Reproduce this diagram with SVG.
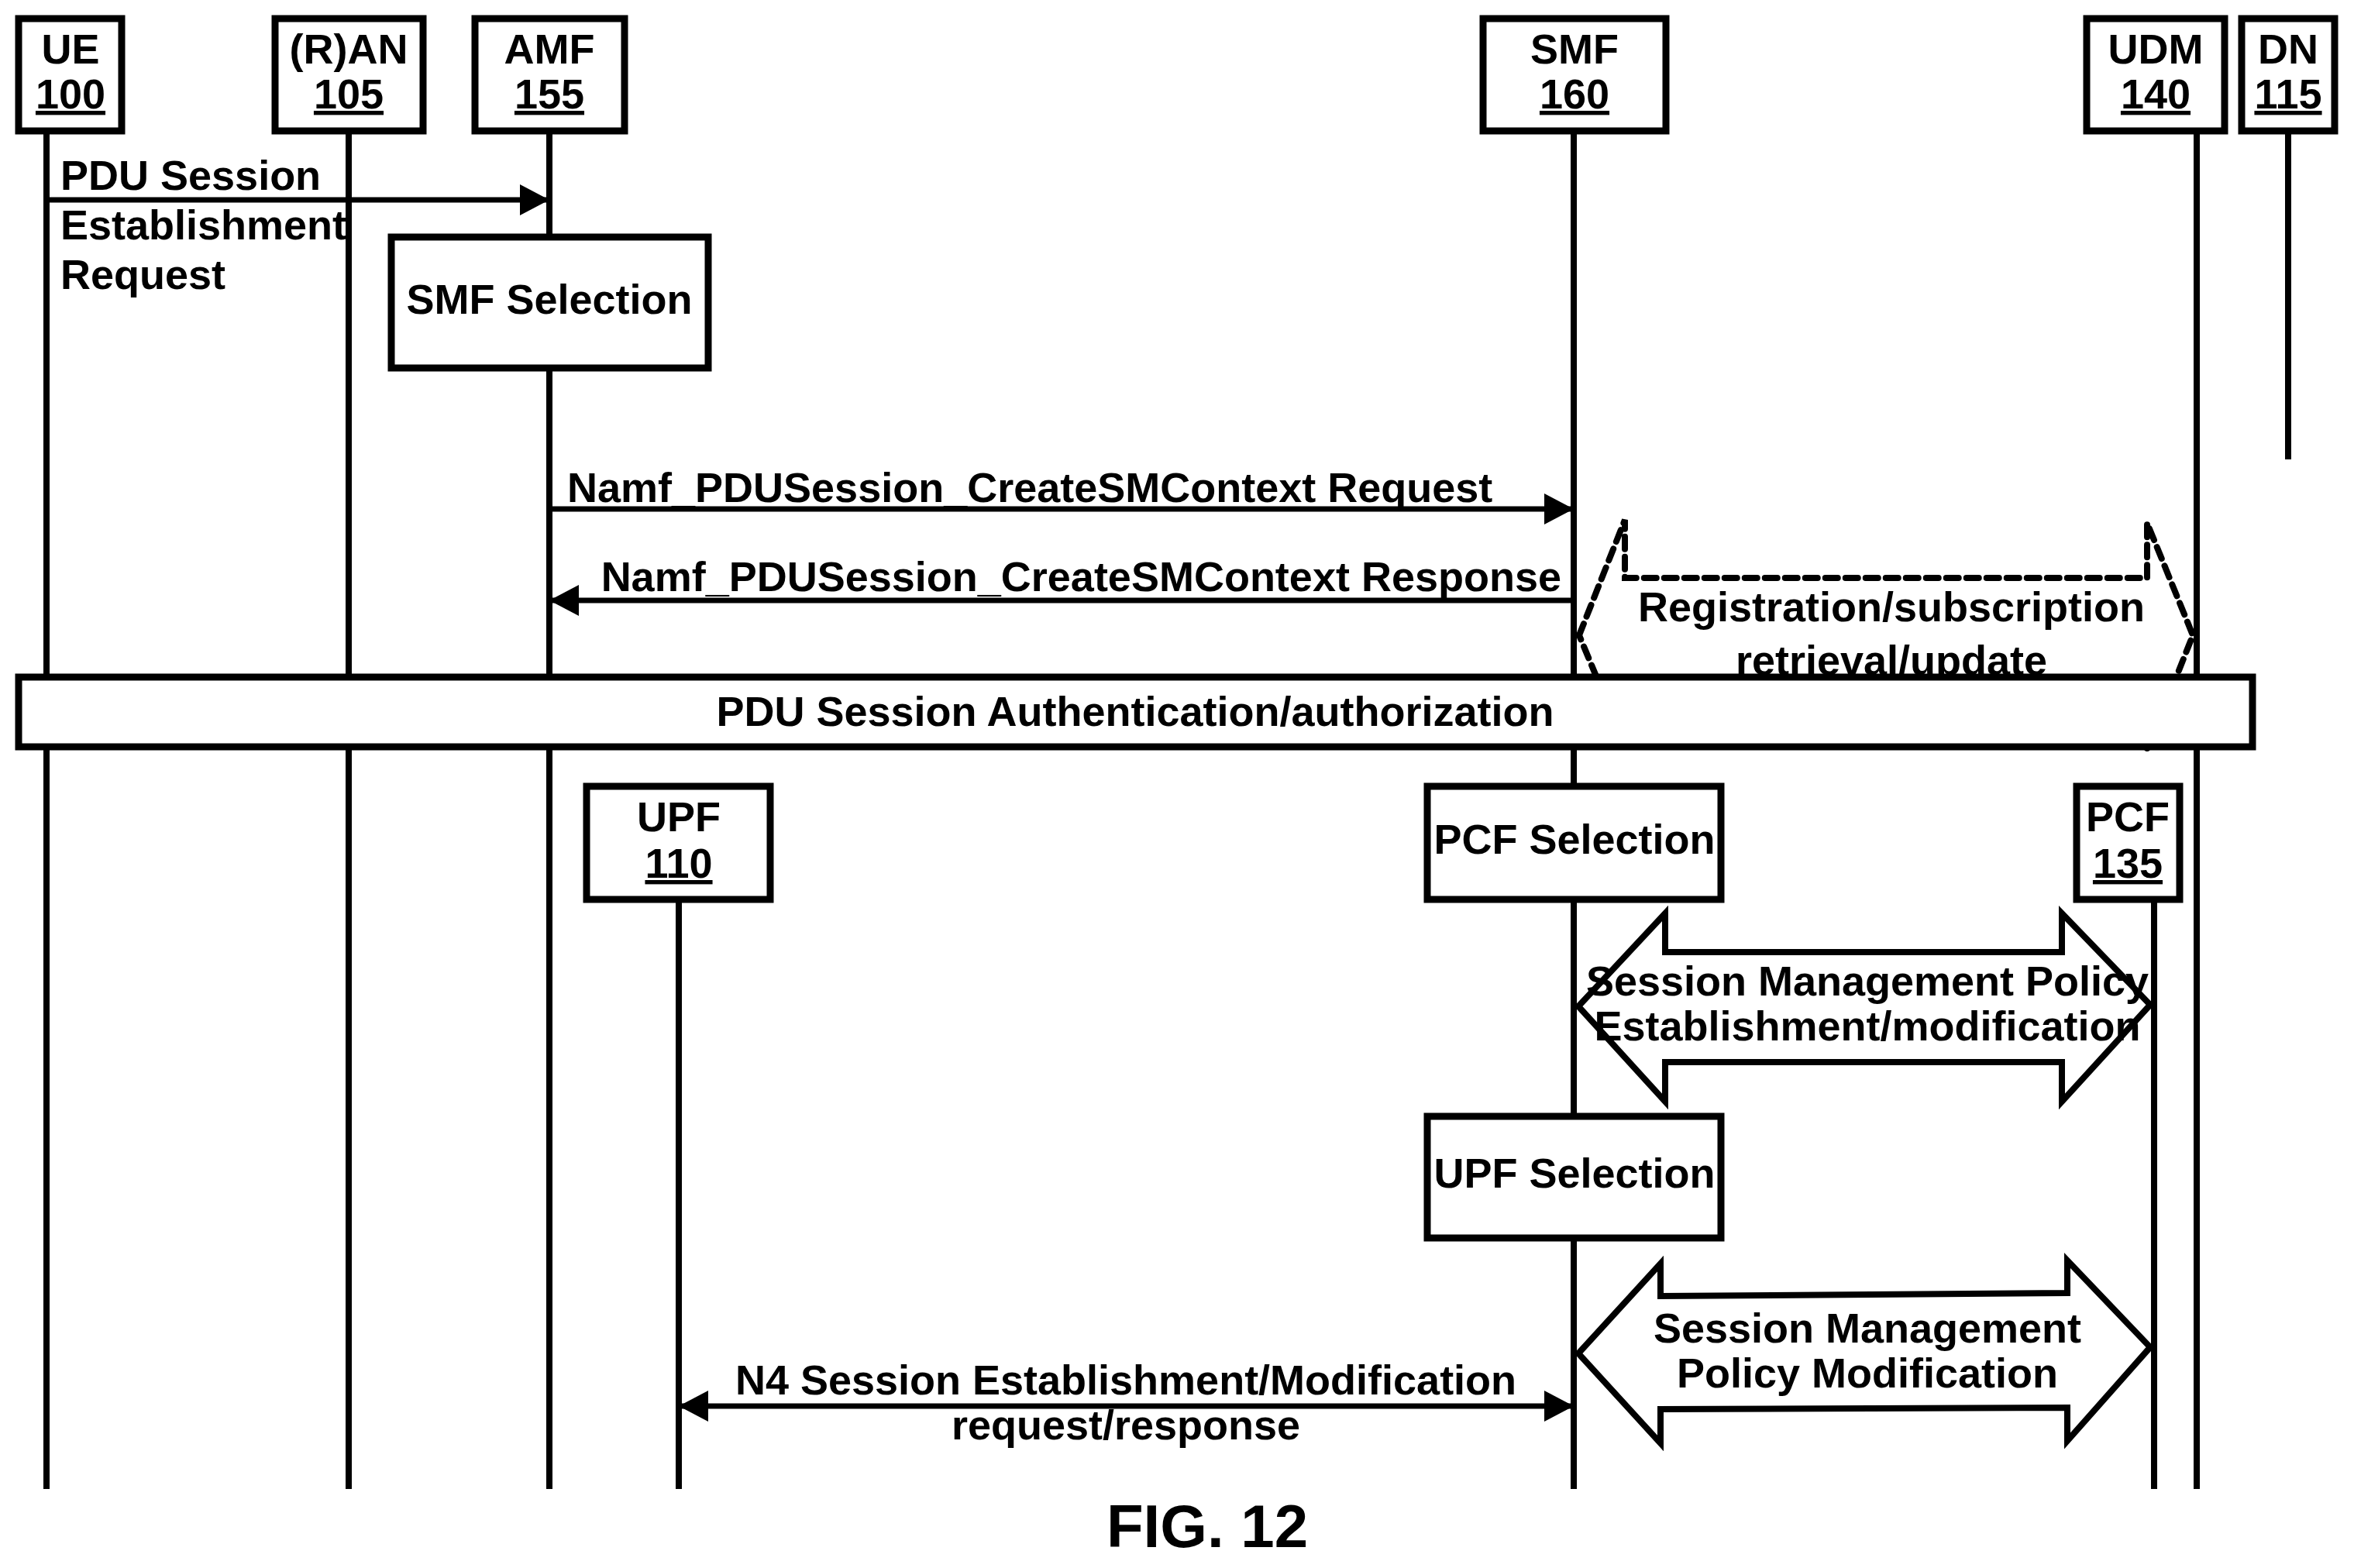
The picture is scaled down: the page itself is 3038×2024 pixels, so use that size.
<svg xmlns="http://www.w3.org/2000/svg" width="3038" height="2024" viewBox="0 0 3038 2024">
<style>
text{font-family:"Liberation Sans Narrow","Liberation Sans",Arial,sans-serif;font-weight:bold;font-size:54px;fill:#000}
.c{text-anchor:middle}
.box{fill:#fff;stroke:#000;stroke-width:9}
.life{stroke:#000;stroke-width:8;fill:none}
.msg{stroke:#000;stroke-width:7;fill:none}
.big{fill:#fff;stroke:#000;stroke-width:8;stroke-linejoin:miter}
.dash{fill:#fff;stroke:#000;stroke-width:8;stroke-dasharray:16 10;stroke-linecap:round}
</style>
<defs>
<marker id="ah" markerUnits="userSpaceOnUse" markerWidth="40" markerHeight="44" refX="38" refY="22" orient="auto-start-reverse">
<path d="M0,2 L38,22 L0,42 Z" fill="#000"/>
</marker>
</defs>
<rect width="3038" height="2024" fill="#fff"/>
<g id="lifelines">
<line class="life" x1="60" y1="169" x2="60" y2="1922"/>
<line class="life" x1="450" y1="169" x2="450" y2="1922"/>
<line class="life" x1="709" y1="169" x2="709" y2="1922"/>
<line class="life" x1="2031" y1="169" x2="2031" y2="1922"/>
<line class="life" x1="2835" y1="169" x2="2835" y2="1922"/>
<line class="life" x1="2953" y1="169" x2="2953" y2="593"/>
<line class="life" x1="876" y1="1161" x2="876" y2="1922"/>
<line class="life" x1="2780" y1="1161" x2="2780" y2="1922"/>
</g>
<g id="UE"><rect class="box" x="24" y="24" width="133" height="145"/><text class="c" x="91" y="82">UE</text><text class="c" x="91" y="140" text-decoration="underline">100</text></g>
<g id="RAN"><rect class="box" x="355" y="24" width="191" height="145"/><text class="c" x="450" y="82">(R)AN</text><text class="c" x="450" y="140" text-decoration="underline">105</text></g>
<g id="AMF"><rect class="box" x="613" y="24" width="193" height="145"/><text class="c" x="709" y="82">AMF</text><text class="c" x="709" y="140" text-decoration="underline">155</text></g>
<g id="SMF"><rect class="box" x="1914" y="24" width="236" height="145"/><text class="c" x="2032" y="82">SMF</text><text class="c" x="2032" y="140" text-decoration="underline">160</text></g>
<g id="UDM"><rect class="box" x="2693" y="24" width="178" height="145"/><text class="c" x="2782" y="82">UDM</text><text class="c" x="2782" y="140" text-decoration="underline">140</text></g>
<g id="DN"><rect class="box" x="2893" y="24" width="120" height="145"/><text class="c" x="2953" y="82">DN</text><text class="c" x="2953" y="140" text-decoration="underline">115</text></g>
<g id="SMFSel"><rect class="box" x="505" y="306" width="409" height="169"/><text class="c" x="709" y="405">SMF Selection</text></g>
<g id="connectors">
<line class="msg" x1="60" y1="258" x2="709" y2="258" marker-end="url(#ah)"/>
<line class="msg" x1="709" y1="657" x2="2031" y2="657" marker-end="url(#ah)"/>
<line class="msg" x1="2031" y1="775" x2="709" y2="775" marker-end="url(#ah)"/>
<line class="msg" x1="876" y1="1815" x2="2031" y2="1815" marker-start="url(#ah)" marker-end="url(#ah)"/>
<path class="dash" d="M2038,820 L2097,671 L2097,746 L2771,746 L2771,675 L2830,820 L2771,969 L2771,894 L2097,894 L2097,962 Z"/>
<path class="big" d="M2037,1299 L2149,1179 L2149,1229 L2661,1229 L2661,1179 L2775,1297 L2661,1422 L2661,1371 L2149,1371 L2149,1422 Z"/>
<path class="big" d="M2037,1747 L2143,1631 L2143,1673 L2668,1669 L2668,1627 L2775,1739 L2668,1860 L2668,1817 L2143,1819 L2143,1863 Z"/>
</g>
<g id="labels">
<text x="78" y="245">PDU Session</text>
<text x="78" y="309">Establishment</text>
<text x="78" y="373">Request</text>
<text x="732" y="648">Namf_PDUSession_CreateSMContext Request</text>
<text x="2015" y="763" text-anchor="end">Namf_PDUSession_CreateSMContext Response</text>
<text class="c" x="2441" y="802">Registration/subscription</text>
<text class="c" x="2441" y="871">retrieval/update</text>
</g>
<g id="Auth"><rect class="box" x="24" y="874" width="2883" height="90"/><text class="c" x="1465" y="937">PDU Session Authentication/authorization</text></g>
<g id="UPF"><rect class="box" x="757" y="1015" width="237" height="146"/><text class="c" x="876" y="1073">UPF</text><text class="c" x="876" y="1133" text-decoration="underline">110</text></g>
<g id="PCFSel"><rect class="box" x="1842" y="1015" width="379" height="146"/><text class="c" x="2032" y="1102">PCF Selection</text></g>
<g id="PCF"><rect class="box" x="2680" y="1015" width="133" height="146"/><text class="c" x="2746" y="1073">PCF</text><text class="c" x="2746" y="1133" text-decoration="underline">135</text></g>
<g id="UPFSel"><rect class="box" x="1842" y="1441" width="379" height="157"/><text class="c" x="2032" y="1533">UPF Selection</text></g>
<g id="labels2">
<text class="c" x="2410" y="1285">Session Management Policy</text>
<text class="c" x="2410" y="1343">Establishment/modification</text>
<text class="c" x="2410" y="1733">Session Management</text>
<text class="c" x="2410" y="1791">Policy Modification</text>
<text class="c" x="1453" y="1800">N4 Session Establishment/Modification</text>
<text class="c" x="1453" y="1858">request/response</text>
<text class="c" x="1558" y="1997" style="font-family:'Liberation Sans',Arial,sans-serif;font-size:78px">FIG. 12</text>
</g>
</svg>
